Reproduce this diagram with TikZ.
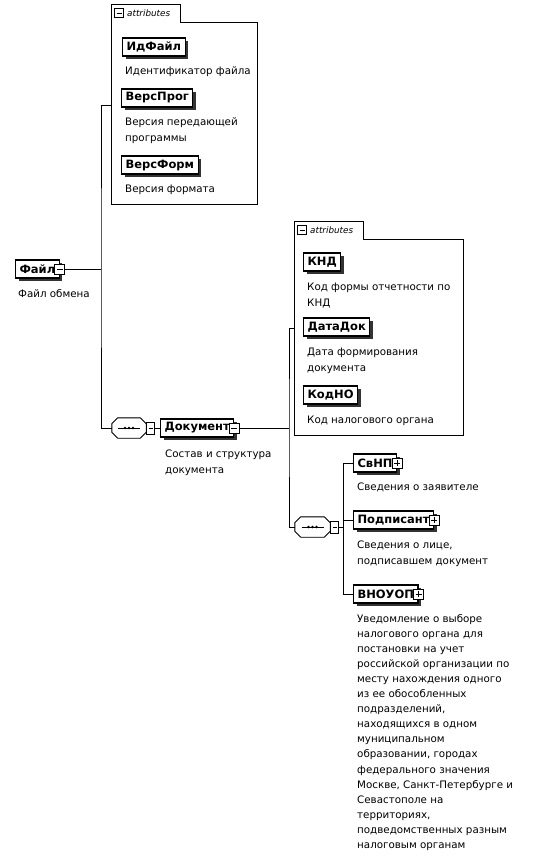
\documentclass[tikz,border=0pt]{standalone}
\usepackage{fontspec}
\setmainfont{DejaVu Sans}
\usetikzlibrary{shadows,calc}
\tikzset{
  conn/.style={line width=0.9pt},
  elem/.style={draw, line width=1.1pt, fill=white, anchor=west,
    font=\bfseries\fontsize{11.5}{13}\selectfont, inner xsep=4pt, inner ysep=0pt,
    minimum height=18pt,
    drop shadow={shadow xshift=3pt, shadow yshift=-3pt, fill=black!80, opacity=1}},
  desc/.style={anchor=base west, align=left, inner sep=0pt,
    font=\fontsize{10.3}{16}\selectfont},
  longdesc/.style={desc, font=\fontsize{10.3}{15.1}\selectfont},
  tog/.style={draw, line width=0.7pt, fill=white, minimum width=10pt,
    minimum height=10pt, inner sep=0pt},
  minus/.style={tog, path picture={\draw[line width=0.7pt]
      ([xshift=2pt]path picture bounding box.west) --
      ([xshift=-2pt]path picture bounding box.east);}},
  plus/.style={tog, path picture={\draw[line width=0.7pt]
      ([xshift=2pt]path picture bounding box.west) --
      ([xshift=-2pt]path picture bounding box.east)
      ([yshift=2pt]path picture bounding box.south) --
      ([yshift=-2pt]path picture bounding box.north);}},
  seqc/.style={minus, minimum width=8pt, minimum height=12pt, anchor=west},
  seqbase/.style={inner sep=0pt, minimum height=20pt},
  seqline/.style={line width=0.9pt, fill=white},
  seqshadow/.style={fill=black!75},
  abox/.style={anchor=north west, inner sep=0pt},
  atab/.style={anchor=south west, inner sep=0pt, minimum width=69pt, minimum height=17pt},
  aline/.style={line width=1pt},
  atext/.style={anchor=west, inner sep=0pt, font=\itshape\fontsize{8.8}{10}\selectfont},
}
% octagon of a sequence compositor drawn round node #1
\newcommand\seqoctpath[1]{($(#1.north west)+(6,0)$) -- ($(#1.north east)+(-6,0)$)
  -- ($(#1.north east)+(0,6)$) -- ($(#1.south east)+(0,-6)$)
  -- ($(#1.south east)+(-6,0)$) -- ($(#1.south west)+(6,0)$)
  -- ($(#1.south west)+(0,-6)$) -- ($(#1.north west)+(0,6)$) -- cycle}
\newcommand\seqoct[1]{%
  \begin{scope}[shift={(2.5,2.5)}]\fill[seqshadow] \seqoctpath{#1};\end{scope}
  \draw[seqline] \seqoctpath{#1};
  \draw[conn] ($(#1.center)+(-11,0)$) -- ($(#1.center)+(11,0)$);
  \foreach \d in {-4,0,4} \fill ($(#1.center)+(\d,0)$) circle (1.4pt);}
\begin{document}
\begin{tikzpicture}[x=1pt,y=-1pt]
\fill[white] (0,0) rectangle (550,860);
\path[use as bounding box] (0,0) rectangle (550,860);

% ---------- first attributes box
\node[abox, minimum width=146pt, minimum height=182pt] (attr1) at (111,22) {};
\node[atab] (attr1tab) at (attr1.north west) {};
\draw[aline] (attr1.south west) -- (attr1tab.north west) -- (attr1tab.north east)
  -- (attr1tab.south east) -- (attr1.north east) -- (attr1.south east) -- cycle;
\node[minus, minimum width=9pt, minimum height=9pt] (attr1m) at ($(attr1tab.west)+(8,0)$) {};
\node[atext] (attr1t) at ($(attr1tab.west)+(16,0)$) {attributes};

\node[elem] (idf) at (122,47) {ИдФайл};
\node[desc] (idfd) at (125,74) {Идентификатор файла};
\node[elem] (vprog) at (121,98) {ВерсПрог};
\node[desc] (vprogd) at (125,141) {Версия передающей\\программы};
\node[elem] (vform) at (121,165) {ВерсФорм};
\node[desc] (vformd) at (125,192) {Версия формата};

% ---------- root
\node[elem] (fajl) at (15,269) {Файл\hspace{5pt}};
\node[minus] (fajlm) at (fajl.east) {};
\node[desc] (fajld) at (18,297) {Файл обмена};
\coordinate (j1) at (101,269);

% ---------- sequence 1 and Документ
\node[seqbase, minimum width=34pt] (seq1) at (129,428) {};
\seqoct{seq1}
\node[seqc] (seq1c) at (seq1.east) {};

\node[elem] (doc) at (160,428) {Документ\hspace{5pt}};
\node[minus] (docm) at (doc.east) {};
\node[desc] (docd) at (165,473) {Состав и структура\\документа};
\coordinate (j2) at (289,428);

\draw[conn] (fajlm.east) -- (j1);
\draw[conn] ($(attr1.north west)+(0,83)$) -| (j1) |- (seq1.west);
\draw[conn] (seq1c.east) -- (doc.west);

% ---------- second attributes box
\node[abox, minimum width=169pt, minimum height=196pt] (attr2) at (294,239) {};
\node[atab] (attr2tab) at (attr2.north west) {};
\draw[aline] (attr2.south west) -- (attr2tab.north west) -- (attr2tab.north east)
  -- (attr2tab.south east) -- (attr2.north east) -- (attr2.south east) -- cycle;
\node[minus, minimum width=9pt, minimum height=9pt] (attr2m) at ($(attr2tab.west)+(8,0)$) {};
\node[atext] (attr2t) at ($(attr2tab.west)+(16,0)$) {attributes};

\node[elem] (knd) at (303,262) {КНД};
\node[desc] (kndd) at (307,306) {Код формы отчетности по\\КНД};
\node[elem] (datadok) at (303,327) {ДатаДок};
\node[desc] (datadokd) at (307,371) {Дата формирования\\документа};
\node[elem] (kodno) at (303,395) {КодНО};
\node[desc] (kodnod) at (307,423) {Код налогового органа};

% ---------- sequence 2 and children
\node[seqbase, minimum width=35pt] (seq2) at (312.5,527) {};
\seqoct{seq2}
\node[seqc] (seq2c) at (seq2.east) {};
\coordinate (j3) at (343,527);

\draw[conn] (docm.east) -- (j2);
\draw[conn] ($(attr2.north west)+(0,89)$) -| (j2) |- (seq2.west);

\node[elem] (svnp) at (353,463) {СвНП\hspace{6pt}};
\node[plus] (svnpp) at (svnp.east) {};
\node[desc] (svnpd) at (357,490) {Сведения о заявителе};
\node[elem] (podp) at (353,520) {Подписант\hspace{6pt}};
\node[plus] (podpp) at (podp.east) {};
\node[desc] (podpd) at (357,564) {Сведения о лице,\\подписавшем документ};
\node[elem] (vnouop) at (353,594) {ВНОУОП\hspace{6pt}};
\node[plus] (vnouopp) at (vnouop.east) {};
\node[longdesc] (vnouopd) at (357,848.5) {Уведомление о выборе\\налогового органа для\\постановки на учет\\российской организации по\\месту нахождения одного\\из ее обособленных\\подразделений,\\находящихся в одном\\муниципальном\\образовании, городах\\федерального значения\\Москве, Санкт-Петербурге и\\Севастополе на\\территориях,\\подведомственных разным\\налоговым органам};

\draw[conn] (seq2c.east) -- (j3);
\draw[conn] (svnp.west) -| (j3);
\draw[conn] (vnouop.west) -| (j3);
\draw[conn] (podp.west) -- (podp.west -| j3);
\end{tikzpicture}
\end{document}
